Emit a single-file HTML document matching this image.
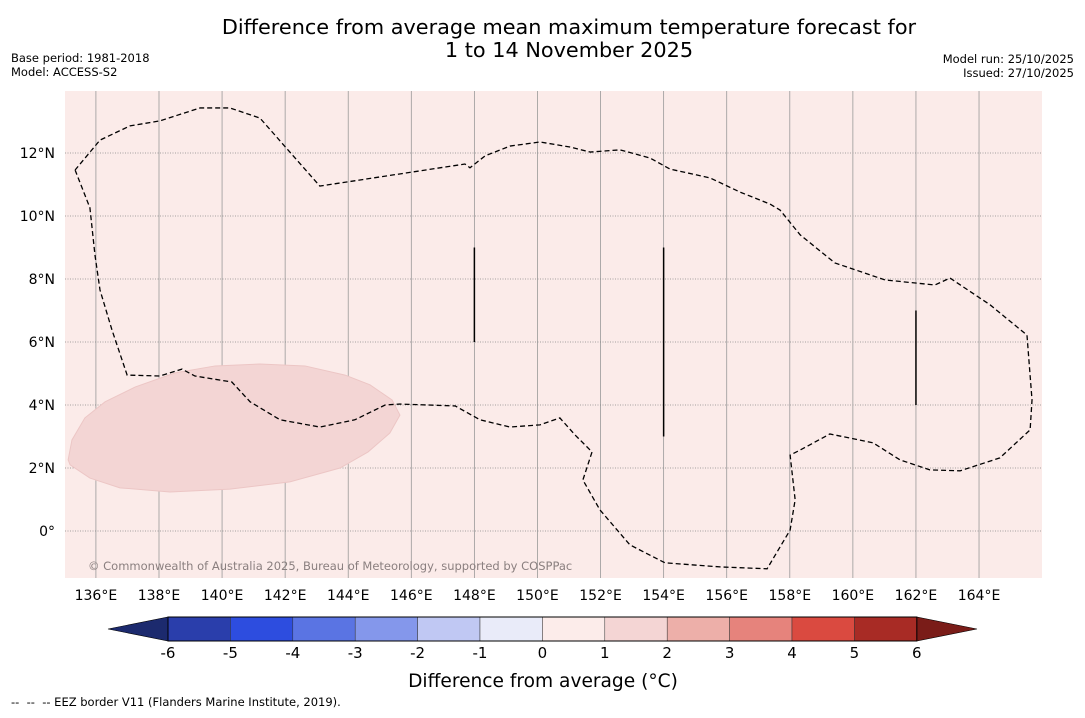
<!DOCTYPE html>
<html><head><meta charset="utf-8"><style>
body{margin:0;background:#fff;}
svg text{font-family:"DejaVu Sans","Liberation Sans",sans-serif;}
</style></head><body>
<svg width="1085" height="713" viewBox="0 0 1085 713" xmlns="http://www.w3.org/2000/svg">
<text x="569" y="34" font-size="20.8" text-anchor="middle">Difference from average mean maximum temperature forecast for</text>
<text x="569" y="57" font-size="20.8" text-anchor="middle">1 to 14 November 2025</text>
<text x="11" y="62" font-size="11.5">Base period: 1981-2018</text>
<text x="11" y="76" font-size="11.5">Model: ACCESS-S2</text>
<text x="1074" y="63" font-size="11.5" text-anchor="end">Model run: 25/10/2025</text>
<text x="1074" y="77" font-size="11.5" text-anchor="end">Issued: 27/10/2025</text>
<defs><clipPath id="mc"><rect x="65" y="91" width="977" height="487"/></clipPath></defs>
<rect x="65" y="91" width="977" height="487" fill="#fbebe9"/>
<g id="grid" clip-path="url(#mc)"></g>
<g id="marks" clip-path="url(#mc)"></g>
<g id="axes"></g>
<text x="88" y="570" font-size="11.5" fill="#8a7f7f">© Commonwealth of Australia 2025, Bureau of Meteorology, supported by COSPPac</text>
<g id="cbar"></g>
<text x="543" y="687" font-size="18.6" text-anchor="middle">Difference from average (°C)</text>
<text x="11" y="706" font-size="11.5" xml:space="preserve" style="white-space:pre">--  --  -- EEZ border V11 (Flanders Marine Institute, 2019).</text>
</svg>
<script>
const lonTicks=[136,138,140,142,144,146,148,150,152,154,156,158,160,162,164];
const latTicks=[0,2,4,6,8,10,12];
const eezLon=[135.34,135.81,135.97,136.13,136.51,136.99,138.03,138.73,139.14,140.31,140.89,141.84,143.10,144.21,145.17,145.64,147.39,148.18,149.13,150.08,150.71,151.19,151.73,151.44,151.98,152.93,154.04,155.79,157.28,158.01,158.17,158.01,158.33,159.27,160.64,161.49,162.44,163.40,164.66,165.62,165.68,165.52,164.35,163.08,162.60,161.02,159.43,158.33,157.69,157.37,156.42,155.47,154.20,153.57,152.62,151.67,151.03,150.08,149.13,148.34,147.86,147.70,143.10,141.20,140.25,139.30,138.03,137.08,136.13,135.34];
const eezLat=[11.46,10.26,8.76,7.65,6.38,4.95,4.92,5.14,4.92,4.73,4.10,3.53,3.30,3.53,4.00,4.03,3.97,3.53,3.30,3.37,3.59,3.05,2.51,1.62,0.67,-0.44,-1.01,-1.14,-1.20,0.03,0.99,2.41,2.57,3.08,2.80,2.26,1.94,1.91,2.32,3.21,4.16,6.22,7.18,8.03,7.81,7.97,8.51,9.40,10.19,10.38,10.76,11.21,11.49,11.84,12.10,12.03,12.19,12.35,12.22,11.91,11.53,11.65,10.95,13.11,13.43,13.43,13.02,12.86,12.41,11.46];
const blobLon=[135.12,135.24,135.65,136.29,137.24,138.51,139.78,141.20,142.63,143.90,144.69,145.39,145.64,145.32,144.63,143.74,142.15,140.25,138.35,136.76,135.81,135.18];
const blobLat=[2.26,2.89,3.59,4.10,4.57,5.02,5.24,5.30,5.24,4.95,4.64,4.16,3.68,3.11,2.51,2.00,1.56,1.33,1.24,1.37,1.68,2.10];
const segLon=[148,154,162];
const segLat0=[9,9,7];
const segLat1=[6,3,4];
const cbLevels=[-6,-5,-4,-3,-2,-1,0,1,2,3,4,5,6];
const cbColors=["#2a3eab","#2d4ddf","#5a74e3","#8497eb","#c0c8f3","#e9ebf9","#fcecea","#f4d5d4","#edafa9","#e6837c","#da4a40","#a82b25"];
const cbUnder="#1c2a6e", cbOver="#7a1c18";
const NS="http://www.w3.org/2000/svg";
const X=lon=>65+(lon-135.02)*31.54;
const Y=lat=>531-lat*31.5;
function mk(t,a,p){const e=document.createElementNS(NS,t);for(const k in a)e.setAttribute(k,a[k]);p.appendChild(e);return e;}
const grid=document.getElementById('grid'),marks=document.getElementById('marks'),axes=document.getElementById('axes'),cbar=document.getElementById('cbar');
lonTicks.forEach(l=>{
 const g=mk('line',{x1:X(l),x2:X(l),y1:91,y2:578,stroke:'#999',"stroke-width":0.8},grid);
 
 
 const t=mk('text',{x:X(l),y:600,"font-size":14,"text-anchor":"middle"},axes);t.textContent=l+'°E';
 
 
});
latTicks.forEach(l=>{
 const g=mk('line',{x1:65,x2:1042,y1:Y(l),y2:Y(l),stroke:'#888',"stroke-width":0.8,"stroke-dasharray":"1,1.5"},grid);
 
 
 const t=mk('text',{x:55,y:Y(l)+5,"font-size":14,"text-anchor":"end"},axes);t.textContent=(l===0?'0°':l+'°N');
 
 
});
const bp=mk('polygon',{points:blobLon.map((l,i)=>X(l)+','+Y(blobLat[i])).join(' '),fill:'#f3d5d4',stroke:'#ecc6c5',"stroke-width":1},marks);


const ep=mk('polyline',{points:eezLon.map((l,i)=>X(l)+','+Y(eezLat[i])).join(' '),fill:'none',stroke:'#000',"stroke-width":1.3,"stroke-dasharray":"5,3"},marks);


segLon.forEach((l,i)=>{
 const s=mk('line',{x1:X(l),x2:X(l),y1:Y(segLat0[i]),y2:Y(segLat1[i]),stroke:'#000',"stroke-width":1.5},marks);
 
 
});
const C=v=>168+(v+6)*62.4;
cbColors.forEach((c,i)=>{
 const r=mk('rect',{x:C(cbLevels[i]),y:617,width:C(cbLevels[i+1])-C(cbLevels[i]),height:24,fill:c,stroke:'#333',"stroke-width":0.5},cbar);
 
 
});
const u=mk('polygon',{points:`108,629 ${C(-6)},617 ${C(-6)},641`,fill:cbUnder,stroke:'#000',"stroke-width":0.6},cbar);


const o=mk('polygon',{points:`977,629 ${C(6)},617 ${C(6)},641`,fill:cbOver,stroke:'#000',"stroke-width":0.6},cbar);


const f=mk('rect',{x:C(-6),y:617,width:C(6)-C(-6),height:24,fill:'none',stroke:'#000',"stroke-width":1},cbar);


cbLevels.forEach(v=>{
 const t=mk('text',{x:C(v),y:658,"font-size":15,"text-anchor":"middle"},cbar);t.textContent=v;
 
 
});
</script>
</body></html>
